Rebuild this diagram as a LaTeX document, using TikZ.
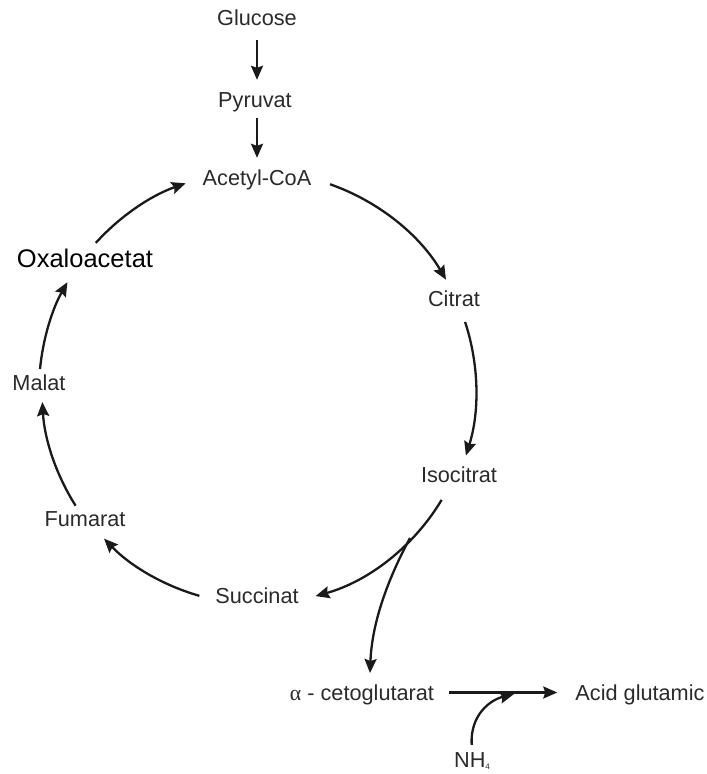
\documentclass[tikz,border=0pt]{standalone}
\usepackage{fontspec}
\setmainfont{Liberation Sans}
\newfontfamily\grk{Liberation Serif}
\usetikzlibrary{arrows.meta}
\definecolor{txt}{HTML}{2A2A2A}
\definecolor{ln}{HTML}{1A1A1A}
\begin{document}
\begin{tikzpicture}[x=1pt,y=-1pt,
  lbl/.style={anchor=base,inner sep=0pt,text height=16pt,text depth=5pt,text=txt,
    font=\fontsize{21.7}{24}\selectfont},
  arr/.style={draw=ln,line width=2.3pt,-{Stealth[length=14pt,width=12pt,inset=2pt]}}]
\useasboundingbox (0,0) rectangle (707,774);
\coordinate (cyc) at (258,390);
% nodes
\node[lbl] (glu) at (257,25) {Glucose};
\node[lbl] (pyr) at (255,107) {Pyruvat};
\node[lbl] (acc) at (257,185) {Acetyl-CoA};
\node[lbl] (cit) at (454,306) {Citrat};
\node[lbl] (iso) at (459,482) {Isocitrat};
\node[lbl] (suc) at (257,603) {Succinat};
\node[lbl] (fum) at (85,526) {Fumarat};
\node[lbl] (mal) at (39,390) {Malat};
\node[lbl,text=black,font=\fontsize{25.5}{28}\selectfont] (oxa) at (85,267) {Oxaloacetat};
\node[lbl] (akg) at (362,700) {{\grk α} - cetoglutarat};
\node[lbl] (glm) at (640,700) {Acid glutamic};
\node[lbl,text depth=2pt] (nh) at (472,767) {NH\raisebox{-2pt}{\fontsize{8}{8}\selectfont 4}};
% straight arrows
\draw[arr,shorten <=10pt,shorten >=11pt] (glu.south -| 257,0) -- (pyr.north -| 257,0);
\draw[arr,shorten <=6pt,shorten >=11pt] (pyr.south -| 257,0) -- (acc.north -| 257,0);
% cycle arcs
\draw[arr] (cyc) ++(-70.7:218) arc[start angle=-70.7,end angle=-30.4,radius=218];
\draw[arr] (cyc) ++(-18.2:218) arc[start angle=-18.2,end angle=17.5,radius=218];
\draw[arr] (cyc) ++(30.9:214) arc[start angle=30.9,end angle=74.4,radius=214];
\draw[arr] (cyc) ++(105.9:214) arc[start angle=105.9,end angle=136,radius=214];
\draw[arr] (cyc) ++(147.6:216) arc[start angle=147.6,end angle=176.8,radius=216];
\draw[arr] (cyc) ++(185.5:219) arc[start angle=185.5,end angle=209.5,radius=219];
\draw[arr] (cyc) ++(222.2:219) arc[start angle=222.2,end angle=250.7,radius=219];
% branch to alpha-ketoglutarate
\coordinate (br) at (410,538);
\coordinate (akgin) at (370,673);
\draw[arr] (br) .. controls (390,575) and (372,620) .. (akgin);
% horizontal reaction
\draw[arr,shorten <=15pt,shorten >=18pt] ([yshift=2pt]akg.east) -- ([yshift=2pt]glm.west);
% ammonium
\draw[arr,shorten <=6pt] (nh.north) .. controls (470,715) and (490,700) .. (514,694);
\end{tikzpicture}
\end{document}
